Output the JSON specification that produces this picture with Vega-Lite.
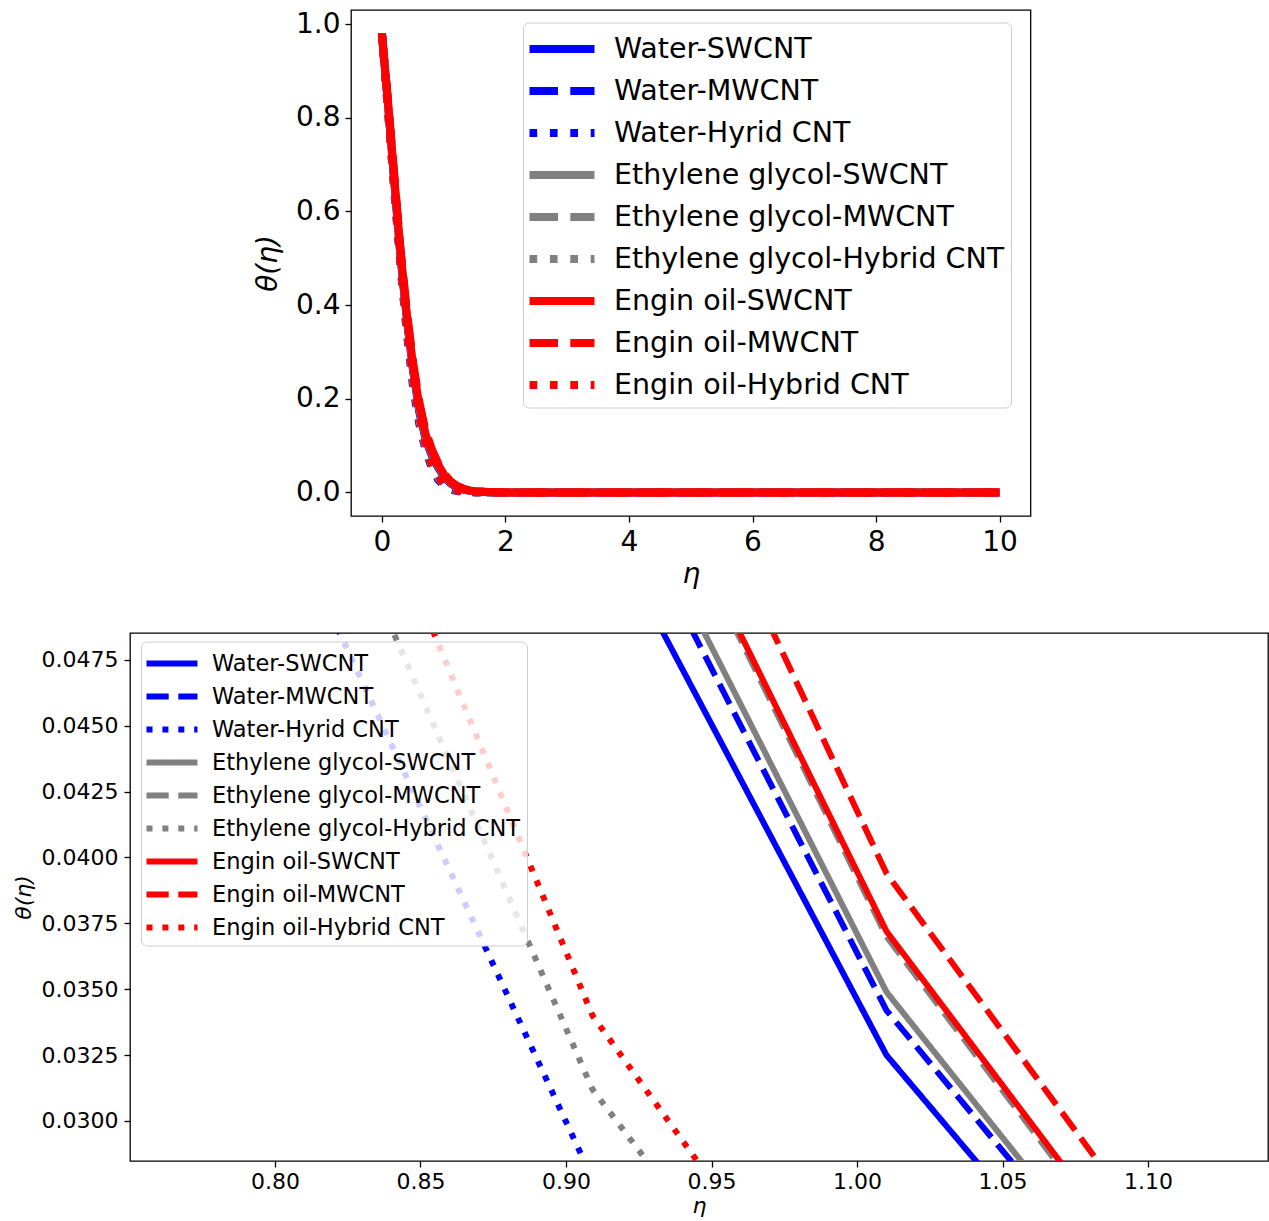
{
  "$schema": "https://vega.github.io/schema/vega-lite/v6.json",
  "padding": {"left": 11, "top": 7, "right": 0, "bottom": 0},
  "background": "white",
  "datasets": {"curves": [
    {"s":"Water-SWCNT","eta":0,"theta":0.98},{"s":"Water-SWCNT","eta":0.101,"theta":0.825},{"s":"Water-SWCNT","eta":0.202,"theta":0.66},{"s":"Water-SWCNT","eta":0.303,"theta":0.5},{"s":"Water-SWCNT","eta":0.404,"theta":0.37},{"s":"Water-SWCNT","eta":0.505,"theta":0.26},{"s":"Water-SWCNT","eta":0.606,"theta":0.172},{"s":"Water-SWCNT","eta":0.707,"theta":0.114},{"s":"Water-SWCNT","eta":0.8081,"theta":0.0786},{"s":"Water-SWCNT","eta":0.9091,"theta":0.0536},{"s":"Water-SWCNT","eta":1.0101,"theta":0.0325},{"s":"Water-SWCNT","eta":1.1111,"theta":0.0193},{"s":"Water-SWCNT","eta":1.2121,"theta":0.0112},{"s":"Water-SWCNT","eta":1.3131,"theta":0.0064},{"s":"Water-SWCNT","eta":1.4141,"theta":0.0036},{"s":"Water-SWCNT","eta":1.5152,"theta":0.002},{"s":"Water-SWCNT","eta":1.7172,"theta":0.0006},{"s":"Water-SWCNT","eta":2.0202,"theta":0.0001},{"s":"Water-SWCNT","eta":3.0303,"theta":0},{"s":"Water-SWCNT","eta":10,"theta":0},
    {"s":"Water-MWCNT","eta":0,"theta":0.98},{"s":"Water-MWCNT","eta":0.101,"theta":0.826},{"s":"Water-MWCNT","eta":0.202,"theta":0.663},{"s":"Water-MWCNT","eta":0.303,"theta":0.503},{"s":"Water-MWCNT","eta":0.404,"theta":0.373},{"s":"Water-MWCNT","eta":0.505,"theta":0.263},{"s":"Water-MWCNT","eta":0.606,"theta":0.175},{"s":"Water-MWCNT","eta":0.707,"theta":0.117},{"s":"Water-MWCNT","eta":0.8081,"theta":0.0812},{"s":"Water-MWCNT","eta":0.9091,"theta":0.056},{"s":"Water-MWCNT","eta":1.0101,"theta":0.0342},{"s":"Water-MWCNT","eta":1.1111,"theta":0.0207},{"s":"Water-MWCNT","eta":1.2121,"theta":0.0121},{"s":"Water-MWCNT","eta":1.3131,"theta":0.007},{"s":"Water-MWCNT","eta":1.4141,"theta":0.004},{"s":"Water-MWCNT","eta":1.5152,"theta":0.0022},{"s":"Water-MWCNT","eta":1.7172,"theta":0.0007},{"s":"Water-MWCNT","eta":2.0202,"theta":0.0001},{"s":"Water-MWCNT","eta":3.0303,"theta":0},{"s":"Water-MWCNT","eta":10,"theta":0},
    {"s":"Water-Hyrid CNT","eta":0,"theta":0.98},{"s":"Water-Hyrid CNT","eta":0.101,"theta":0.81},{"s":"Water-Hyrid CNT","eta":0.202,"theta":0.64},{"s":"Water-Hyrid CNT","eta":0.303,"theta":0.48},{"s":"Water-Hyrid CNT","eta":0.404,"theta":0.34},{"s":"Water-Hyrid CNT","eta":0.505,"theta":0.225},{"s":"Water-Hyrid CNT","eta":0.606,"theta":0.146},{"s":"Water-Hyrid CNT","eta":0.707,"theta":0.091},{"s":"Water-Hyrid CNT","eta":0.8081,"theta":0.0519},{"s":"Water-Hyrid CNT","eta":0.9091,"theta":0.0278},{"s":"Water-Hyrid CNT","eta":1.0101,"theta":0.0137},{"s":"Water-Hyrid CNT","eta":1.1111,"theta":0.0065},{"s":"Water-Hyrid CNT","eta":1.2121,"theta":0.003},{"s":"Water-Hyrid CNT","eta":1.3131,"theta":0.0013},{"s":"Water-Hyrid CNT","eta":1.4141,"theta":0.0005},{"s":"Water-Hyrid CNT","eta":1.5152,"theta":0.0002},{"s":"Water-Hyrid CNT","eta":1.7172,"theta":0},{"s":"Water-Hyrid CNT","eta":2.0202,"theta":0},{"s":"Water-Hyrid CNT","eta":3.0303,"theta":0},{"s":"Water-Hyrid CNT","eta":10,"theta":0},
    {"s":"Ethylene glycol-SWCNT","eta":0,"theta":0.98},{"s":"Ethylene glycol-SWCNT","eta":0.101,"theta":0.827},{"s":"Ethylene glycol-SWCNT","eta":0.202,"theta":0.665},{"s":"Ethylene glycol-SWCNT","eta":0.303,"theta":0.505},{"s":"Ethylene glycol-SWCNT","eta":0.404,"theta":0.375},{"s":"Ethylene glycol-SWCNT","eta":0.505,"theta":0.265},{"s":"Ethylene glycol-SWCNT","eta":0.606,"theta":0.178},{"s":"Ethylene glycol-SWCNT","eta":0.707,"theta":0.119},{"s":"Ethylene glycol-SWCNT","eta":0.8081,"theta":0.0825},{"s":"Ethylene glycol-SWCNT","eta":0.9091,"theta":0.0569},{"s":"Ethylene glycol-SWCNT","eta":1.0101,"theta":0.0349},{"s":"Ethylene glycol-SWCNT","eta":1.1111,"theta":0.0209},{"s":"Ethylene glycol-SWCNT","eta":1.2121,"theta":0.0122},{"s":"Ethylene glycol-SWCNT","eta":1.3131,"theta":0.0071},{"s":"Ethylene glycol-SWCNT","eta":1.4141,"theta":0.0041},{"s":"Ethylene glycol-SWCNT","eta":1.5152,"theta":0.0023},{"s":"Ethylene glycol-SWCNT","eta":1.7172,"theta":0.0007},{"s":"Ethylene glycol-SWCNT","eta":2.0202,"theta":0.0001},{"s":"Ethylene glycol-SWCNT","eta":3.0303,"theta":0},{"s":"Ethylene glycol-SWCNT","eta":10,"theta":0},
    {"s":"Ethylene glycol-MWCNT","eta":0,"theta":0.98},{"s":"Ethylene glycol-MWCNT","eta":0.101,"theta":0.829},{"s":"Ethylene glycol-MWCNT","eta":0.202,"theta":0.668},{"s":"Ethylene glycol-MWCNT","eta":0.303,"theta":0.51},{"s":"Ethylene glycol-MWCNT","eta":0.404,"theta":0.378},{"s":"Ethylene glycol-MWCNT","eta":0.505,"theta":0.269},{"s":"Ethylene glycol-MWCNT","eta":0.606,"theta":0.183},{"s":"Ethylene glycol-MWCNT","eta":0.707,"theta":0.123},{"s":"Ethylene glycol-MWCNT","eta":0.8081,"theta":0.0862},{"s":"Ethylene glycol-MWCNT","eta":0.9091,"theta":0.0597},{"s":"Ethylene glycol-MWCNT","eta":1.0101,"theta":0.037},{"s":"Ethylene glycol-MWCNT","eta":1.1111,"theta":0.0222},{"s":"Ethylene glycol-MWCNT","eta":1.2121,"theta":0.013},{"s":"Ethylene glycol-MWCNT","eta":1.3131,"theta":0.0075},{"s":"Ethylene glycol-MWCNT","eta":1.4141,"theta":0.0043},{"s":"Ethylene glycol-MWCNT","eta":1.5152,"theta":0.0024},{"s":"Ethylene glycol-MWCNT","eta":1.7172,"theta":0.0008},{"s":"Ethylene glycol-MWCNT","eta":2.0202,"theta":0.0001},{"s":"Ethylene glycol-MWCNT","eta":3.0303,"theta":0},{"s":"Ethylene glycol-MWCNT","eta":10,"theta":0},
    {"s":"Ethylene glycol-Hybrid CNT","eta":0,"theta":0.98},{"s":"Ethylene glycol-Hybrid CNT","eta":0.101,"theta":0.812},{"s":"Ethylene glycol-Hybrid CNT","eta":0.202,"theta":0.645},{"s":"Ethylene glycol-Hybrid CNT","eta":0.303,"theta":0.485},{"s":"Ethylene glycol-Hybrid CNT","eta":0.404,"theta":0.348},{"s":"Ethylene glycol-Hybrid CNT","eta":0.505,"theta":0.235},{"s":"Ethylene glycol-Hybrid CNT","eta":0.606,"theta":0.155},{"s":"Ethylene glycol-Hybrid CNT","eta":0.707,"theta":0.097},{"s":"Ethylene glycol-Hybrid CNT","eta":0.8081,"theta":0.0568},{"s":"Ethylene glycol-Hybrid CNT","eta":0.9091,"theta":0.0312},{"s":"Ethylene glycol-Hybrid CNT","eta":1.0101,"theta":0.0165},{"s":"Ethylene glycol-Hybrid CNT","eta":1.1111,"theta":0.0082},{"s":"Ethylene glycol-Hybrid CNT","eta":1.2121,"theta":0.004},{"s":"Ethylene glycol-Hybrid CNT","eta":1.3131,"theta":0.0018},{"s":"Ethylene glycol-Hybrid CNT","eta":1.4141,"theta":0.0008},{"s":"Ethylene glycol-Hybrid CNT","eta":1.5152,"theta":0.0003},{"s":"Ethylene glycol-Hybrid CNT","eta":1.7172,"theta":0},{"s":"Ethylene glycol-Hybrid CNT","eta":2.0202,"theta":0},{"s":"Ethylene glycol-Hybrid CNT","eta":3.0303,"theta":0},{"s":"Ethylene glycol-Hybrid CNT","eta":10,"theta":0},
    {"s":"Engin oil-SWCNT","eta":0,"theta":0.98},{"s":"Engin oil-SWCNT","eta":0.101,"theta":0.83},{"s":"Engin oil-SWCNT","eta":0.202,"theta":0.67},{"s":"Engin oil-SWCNT","eta":0.303,"theta":0.512},{"s":"Engin oil-SWCNT","eta":0.404,"theta":0.38},{"s":"Engin oil-SWCNT","eta":0.505,"theta":0.27},{"s":"Engin oil-SWCNT","eta":0.606,"theta":0.185},{"s":"Engin oil-SWCNT","eta":0.707,"theta":0.125},{"s":"Engin oil-SWCNT","eta":0.8081,"theta":0.0866},{"s":"Engin oil-SWCNT","eta":0.9091,"theta":0.0599},{"s":"Engin oil-SWCNT","eta":1.0101,"theta":0.0372},{"s":"Engin oil-SWCNT","eta":1.1111,"theta":0.0224},{"s":"Engin oil-SWCNT","eta":1.2121,"theta":0.0131},{"s":"Engin oil-SWCNT","eta":1.3131,"theta":0.0076},{"s":"Engin oil-SWCNT","eta":1.4141,"theta":0.0044},{"s":"Engin oil-SWCNT","eta":1.5152,"theta":0.0025},{"s":"Engin oil-SWCNT","eta":1.7172,"theta":0.0008},{"s":"Engin oil-SWCNT","eta":2.0202,"theta":0.0001},{"s":"Engin oil-SWCNT","eta":3.0303,"theta":0},{"s":"Engin oil-SWCNT","eta":10,"theta":0},
    {"s":"Engin oil-MWCNT","eta":0,"theta":0.98},{"s":"Engin oil-MWCNT","eta":0.101,"theta":0.833},{"s":"Engin oil-MWCNT","eta":0.202,"theta":0.675},{"s":"Engin oil-MWCNT","eta":0.303,"theta":0.518},{"s":"Engin oil-MWCNT","eta":0.404,"theta":0.387},{"s":"Engin oil-MWCNT","eta":0.505,"theta":0.278},{"s":"Engin oil-MWCNT","eta":0.606,"theta":0.193},{"s":"Engin oil-MWCNT","eta":0.707,"theta":0.132},{"s":"Engin oil-MWCNT","eta":0.8081,"theta":0.0925},{"s":"Engin oil-MWCNT","eta":0.9091,"theta":0.0631},{"s":"Engin oil-MWCNT","eta":1.0101,"theta":0.0394},{"s":"Engin oil-MWCNT","eta":1.1111,"theta":0.0242},{"s":"Engin oil-MWCNT","eta":1.2121,"theta":0.0145},{"s":"Engin oil-MWCNT","eta":1.3131,"theta":0.0085},{"s":"Engin oil-MWCNT","eta":1.4141,"theta":0.005},{"s":"Engin oil-MWCNT","eta":1.5152,"theta":0.0028},{"s":"Engin oil-MWCNT","eta":1.7172,"theta":0.0009},{"s":"Engin oil-MWCNT","eta":2.0202,"theta":0.0002},{"s":"Engin oil-MWCNT","eta":3.0303,"theta":0},{"s":"Engin oil-MWCNT","eta":10,"theta":0},
    {"s":"Engin oil-Hybrid CNT","eta":0,"theta":0.98},{"s":"Engin oil-Hybrid CNT","eta":0.101,"theta":0.815},{"s":"Engin oil-Hybrid CNT","eta":0.202,"theta":0.65},{"s":"Engin oil-Hybrid CNT","eta":0.303,"theta":0.49},{"s":"Engin oil-Hybrid CNT","eta":0.404,"theta":0.355},{"s":"Engin oil-Hybrid CNT","eta":0.505,"theta":0.245},{"s":"Engin oil-Hybrid CNT","eta":0.606,"theta":0.163},{"s":"Engin oil-Hybrid CNT","eta":0.707,"theta":0.104},{"s":"Engin oil-Hybrid CNT","eta":0.8081,"theta":0.0609},{"s":"Engin oil-Hybrid CNT","eta":0.9091,"theta":0.034},{"s":"Engin oil-Hybrid CNT","eta":1.0101,"theta":0.0185},{"s":"Engin oil-Hybrid CNT","eta":1.1111,"theta":0.0095},{"s":"Engin oil-Hybrid CNT","eta":1.2121,"theta":0.0047},{"s":"Engin oil-Hybrid CNT","eta":1.3131,"theta":0.0022},{"s":"Engin oil-Hybrid CNT","eta":1.4141,"theta":0.001},{"s":"Engin oil-Hybrid CNT","eta":1.5152,"theta":0.0004},{"s":"Engin oil-Hybrid CNT","eta":1.7172,"theta":0.0001},{"s":"Engin oil-Hybrid CNT","eta":2.0202,"theta":0},{"s":"Engin oil-Hybrid CNT","eta":3.0303,"theta":0},{"s":"Engin oil-Hybrid CNT","eta":10,"theta":0}
  ]},
  "vconcat": [
    {
      "hconcat": [
        {
          "data": {"values": [{"a": 0}]},
          "width": 124,
          "height": 1,
          "view": {"stroke": null},
          "mark": {"type": "point", "opacity": 0},
          "encoding": {}
        },
        {
          "data": {"name": "curves"},
          "width": 679.5,
          "height": 506,
          "mark": {"type": "line", "strokeWidth": 8, "strokeJoin": "round", "clip": true},
          "encoding": {
            "x": {"field": "eta", "type": "quantitative",
              "scale": {"domain": [-0.5, 10.5], "nice": false, "zero": false},
              "axis": {"values": [0, 2, 4, 6, 8, 10], "format": "d", "title": "η", "labelFontSize": 28, "titleFontSize": 28, "titleFontStyle": "italic", "labelPadding": 6, "titlePadding": 4, "labelFlush": false}},
            "y": {"field": "theta", "type": "quantitative",
              "scale": {"domain": [-0.0502, 1.0299], "nice": false, "zero": false},
              "axis": {"values": [0, 0.2, 0.4, 0.6, 0.8, 1.0], "format": ".1f", "title": "θ(η)", "labelFontSize": 28, "titleFontSize": 28, "titleFontStyle": "italic", "labelPadding": 5, "titlePadding": 12.5}},
            "color": {"field": "s", "type": "nominal",
              "scale": {"domain": ["Water-SWCNT", "Water-MWCNT", "Water-Hyrid CNT", "Ethylene glycol-SWCNT", "Ethylene glycol-MWCNT", "Ethylene glycol-Hybrid CNT", "Engin oil-SWCNT", "Engin oil-MWCNT", "Engin oil-Hybrid CNT"],
                "range": ["#0000ff", "#0000ff", "#0000ff", "#808080", "#808080", "#808080", "#ff0000", "#ff0000", "#ff0000"]},
              "legend": {"orient": "none", "legendX": 172, "legendY": 12.5, "title": null, "symbolType": "M-2,0L2,0", "symbolSize": 1056, "symbolStrokeWidth": 8, "symbolOffset": 12.5, "labelFontSize": 28.5, "labelOffset": 31.5, "rowPadding": 5, "padding": 6}},
            "strokeDash": {"field": "s", "type": "nominal",
              "scale": {"domain": ["Water-SWCNT", "Water-MWCNT", "Water-Hyrid CNT", "Ethylene glycol-SWCNT", "Ethylene glycol-MWCNT", "Ethylene glycol-Hybrid CNT", "Engin oil-SWCNT", "Engin oil-MWCNT", "Engin oil-Hybrid CNT"],
                "range": [[1, 0], [28.5, 12.3], [7.7, 12.7], [1, 0], [28.5, 12.3], [7.7, 12.7], [1, 0], [28.5, 12.3], [7.7, 12.7]]},
              "legend": {"orient": "none", "legendX": 172, "legendY": 12.5, "title": null, "symbolType": "M-2,0L2,0", "symbolSize": 1056, "symbolStrokeWidth": 8, "symbolOffset": 12.5, "labelFontSize": 28.5, "labelOffset": 31.5, "rowPadding": 5, "padding": 6}}
          }
        }
      ],
      "spacing": 0,
      "resolve": {
        "scale": {"color": "independent", "strokeDash": "independent"},
        "legend": {"color": "independent", "strokeDash": "independent"}
      }
    },
    {
      "data": {"name": "curves"},
      "width": 1138,
      "height": 528,
      "mark": {"type": "line", "strokeWidth": 6, "strokeJoin": "round", "clip": true},
      "encoding": {
        "x": {"field": "eta", "type": "quantitative",
          "scale": {"domain": [0.7502, 1.1412], "nice": false, "zero": false},
          "axis": {"values": [0.8, 0.85, 0.9, 0.95, 1.0, 1.05, 1.1], "format": ".2f", "title": "η", "labelFontSize": 22, "titleFontSize": 22, "titleFontStyle": "italic", "labelPadding": 4, "titlePadding": 3, "labelFlush": false}},
        "y": {"field": "theta", "type": "quantitative",
          "scale": {"domain": [0.02848, 0.04852], "nice": false, "zero": false},
          "axis": {"values": [0.03, 0.0325, 0.035, 0.0375, 0.04, 0.0425, 0.045, 0.0475], "format": ".4f", "title": "θ(η)", "labelFontSize": 22, "titleFontSize": 22, "titleFontStyle": "italic", "labelPadding": 6, "titlePadding": 6}},
        "color": {"field": "s", "type": "nominal",
          "scale": {"domain": ["Water-SWCNT", "Water-MWCNT", "Water-Hyrid CNT", "Ethylene glycol-SWCNT", "Ethylene glycol-MWCNT", "Ethylene glycol-Hybrid CNT", "Engin oil-SWCNT", "Engin oil-MWCNT", "Engin oil-Hybrid CNT"],
            "range": ["#0000ff", "#0000ff", "#0000ff", "#808080", "#808080", "#808080", "#ff0000", "#ff0000", "#ff0000"]},
          "legend": {"orient": "none", "legendX": 11, "legendY": 8.5, "title": null, "symbolType": "M-2,0L2,0", "symbolSize": 650, "symbolStrokeWidth": 6, "symbolOffset": 9, "labelFontSize": 22.5, "labelOffset": 24, "rowPadding": 5, "padding": 6}},
        "strokeDash": {"field": "s", "type": "nominal",
          "scale": {"domain": ["Water-SWCNT", "Water-MWCNT", "Water-Hyrid CNT", "Ethylene glycol-SWCNT", "Ethylene glycol-MWCNT", "Ethylene glycol-Hybrid CNT", "Engin oil-SWCNT", "Engin oil-MWCNT", "Engin oil-Hybrid CNT"],
            "range": [[1, 0], [22.2, 9.6], [6, 9.9], [1, 0], [22.2, 9.6], [6, 9.9], [1, 0], [22.2, 9.6], [6, 9.9]]},
          "legend": {"orient": "none", "legendX": 11, "legendY": 8.5, "title": null, "symbolType": "M-2,0L2,0", "symbolSize": 650, "symbolStrokeWidth": 6, "symbolOffset": 9, "labelFontSize": 22.5, "labelOffset": 24, "rowPadding": 5, "padding": 6}}
      }
    }
  ],
  "spacing": 43,
  "resolve": {
    "scale": {"x": "independent", "y": "independent", "color": "independent", "strokeDash": "independent"},
    "legend": {"color": "independent", "strokeDash": "independent"}
  },
  "config": {
    "view": {"stroke": "black", "strokeWidth": 1.3},
    "font": "DejaVu Sans",
    "axis": {"domain": false, "grid": false, "ticks": true, "tickColor": "black", "tickWidth": 1.3, "tickSize": 6, "labelColor": "black", "titleColor": "black", "labelFont": "DejaVu Sans", "titleFont": "DejaVu Sans", "titleFontWeight": "normal"},
    "legend": {"labelFont": "DejaVu Sans", "labelColor": "black", "labelLimit": 0, "fillColor": "rgba(255,255,255,0.8)", "strokeColor": "#cccccc", "cornerRadius": 6}
  }
}
